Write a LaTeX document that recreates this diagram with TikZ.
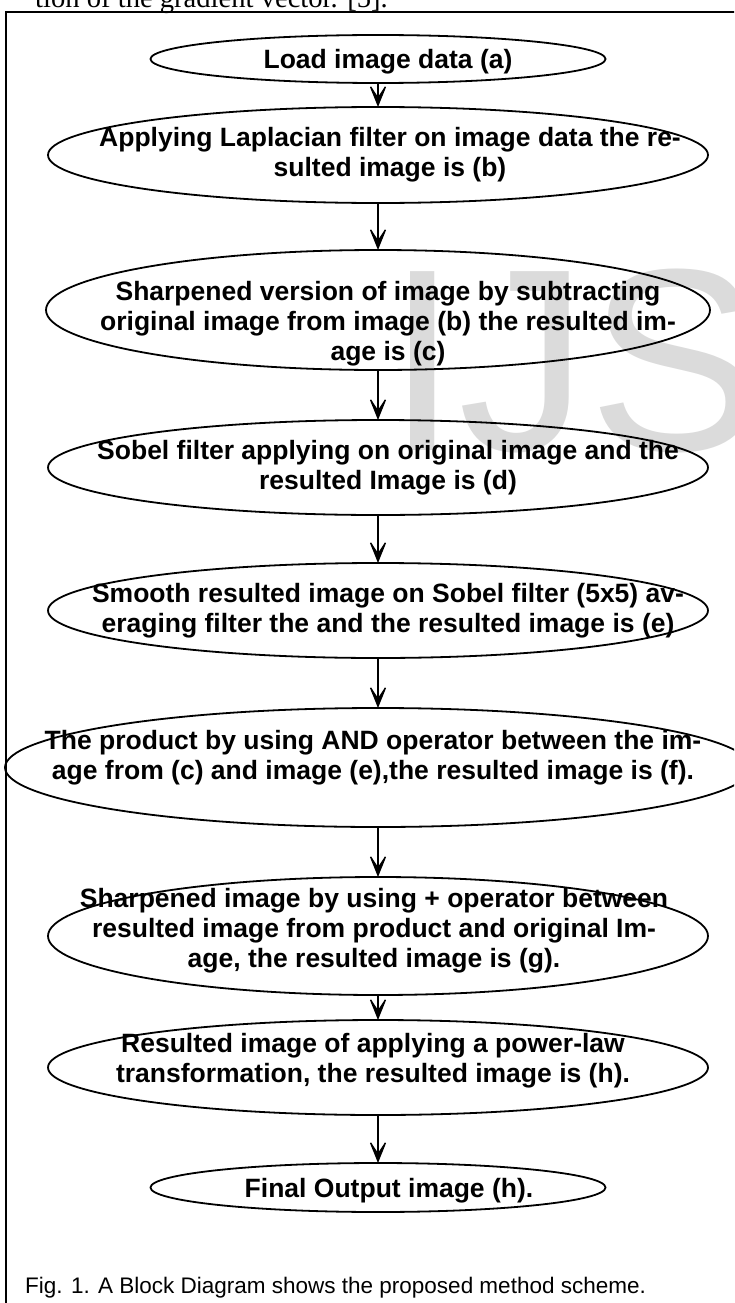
\documentclass[tikz,border=0pt]{standalone}
\usepackage{fontspec}
\setmainfont{Liberation Sans}
\newfontfamily\pageserif{Liberation Serif}
\usetikzlibrary{shapes, arrows.meta, positioning}

\begin{document}
\begin{tikzpicture}[x=1pt, y=1pt, node distance=48pt,
		stage/.style 2 args={ellipse, draw, line width=1.8pt, inner sep=0pt, outer sep=0pt, minimum width=#1pt, minimum height=#2pt},
		txt/.style={align=center, inner sep=0pt, font=\fontsize{26.5}{30}\selectfont\bfseries},
		flow/.style={line width=1.3pt, -{Stealth[length=26pt, width=21pt, inset=16pt]}}]
		\useasboundingbox (0,0) rectangle (734,-1303);
		\clip (0,0) rectangle (734,-1303);
		% page text, watermark and frame
		\node[anchor=base west, inner sep=0pt, font=\pageserif\fontsize{28.6}{30}\selectfont] (prev) at (35,-8) {tion of the gradient vector. [5].};
		\node[anchor=base west, inner sep=0pt, text=black!14, font=\fontsize{260}{260}\selectfont] (mark) at (386,-450) {IJS};
		\draw[line width=2pt] (6,-1310) |- (740,-12);
		% stages
		\node[stage={455}{48}] (a) at (378,-59) {};
		\node[stage={660}{96}, below=24pt of a] (b) {};
		\node[stage={664}{120}, below=47pt of b] (c) {};
		\node[stage={660}{95}, below=50pt of c] (d) {};
		\node[stage={660}{95}, below=of d] (e) {};
		\node[stage={746}{119}, below=50pt of e] (f) {};
		\node[stage={660}{118}, below=50pt of f] (g) {};
		\node[stage={660}{95}, below=25pt of g] (h) {};
		\node[stage={455}{49}, below=of h] (i) {};
		% texts
		\node[txt] (ta) at ([xshift=10pt, yshift=-3pt]a.center) {Load image data (a)};
		\node[txt] (tb) at ([xshift=12pt]b.center) {Applying Laplacian filter on image data the re-\\sulted image is (b)};
		\node[txt] (tc) at ([xshift=10pt, yshift=-14pt]c.center) {Sharpened version of image by subtracting\\original image from image (b) the resulted im-\\age is (c)};
		\node[txt] (td) at ([xshift=10pt]d.center) {Sobel filter applying on original image and the\\resulted Image is (d)};
		\node[txt] (te) at ([xshift=10pt]e.center) {Smooth resulted image on Sobel filter (5x5) av-\\eraging filter the and the resulted image is (e)};
		\node[txt] (tf) at ([xshift=-5pt, yshift=10pt]f.center) {The product by using AND operator between the im-\\age from (c) and image (e),the resulted image is (f).};
		\node[txt] (tg) at ([xshift=-4pt, yshift=5pt]g.center) {Sharpened image by using + operator between\\resulted image from product and original Im-\\age, the resulted image is (g).};
		\node[txt] (th) at ([xshift=-5pt, yshift=7pt]h.center) {Resulted image of applying a power-law\\transformation, the resulted image is (h).};
		\node[txt] (ti) at ([xshift=11pt, yshift=-3pt]i.center) {Final Output image (h).};
		\foreach \from/\to in {a/b,b/c,c/d,d/e,e/f,f/g,g/h,h/i}
			\draw[flow] (\from) -- (\to);
		% caption
		\node[anchor=base west, inner sep=0pt, font=\fontsize{22.5}{27}\selectfont] (cap) at (25,-1293) {Fig. 1. A Block Diagram shows the proposed method scheme.};
	\end{tikzpicture}
\end{document}
